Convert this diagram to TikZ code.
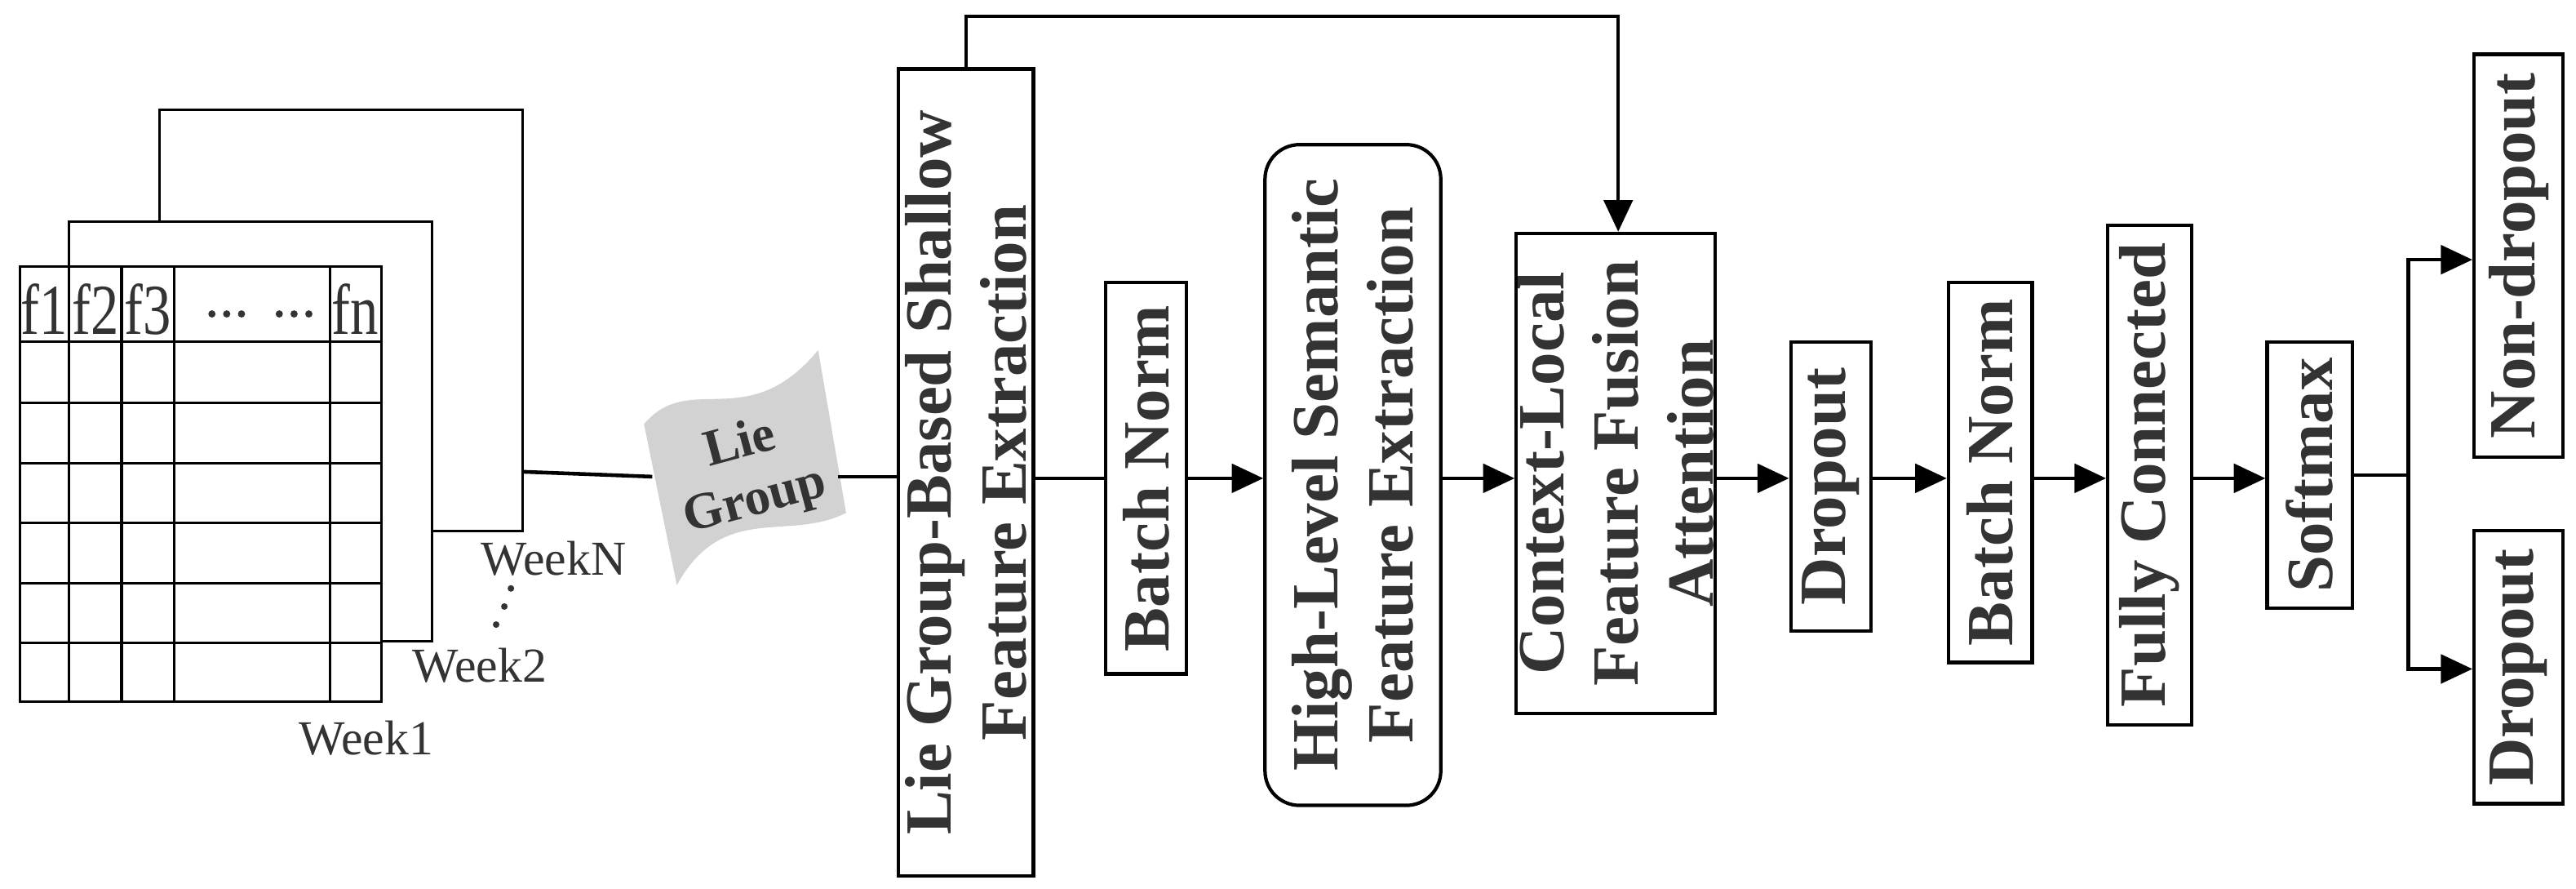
\documentclass[tikz,border=0pt]{standalone}
\usepackage{fontspec}
\setmainfont{Liberation Serif}
\usetikzlibrary{arrows.meta}
\definecolor{txt}{HTML}{333333}
\begin{document}
\begin{tikzpicture}[x=0.02013cm,y=-0.02013cm,
  blk/.style={draw,line width=1.2pt,fill=white,inner sep=0pt},
  vt/.style={rotate=90,align=center,text=txt,font=\fontsize{23}{26}\selectfont\bfseries},
  ln/.style={line width=1.3pt},
  ar/.style={line width=1.3pt,-{Triangle[length=11pt,width=10pt]}},
  tl/.style={text=txt,font=\fontsize{17}{19}\selectfont},
  lgt/.style={rotate=15,text=txt,font=\fontsize{18}{20}\selectfont\bfseries,inner sep=0pt}]
\useasboundingbox (0,0) rectangle (1568,540.5);
% stacked weeks
\draw[line width=0.9pt,fill=white] (97,67) rectangle (318,323);
\draw[line width=0.9pt,fill=white] (42,135) rectangle (263,390);
\draw[line width=0.9pt,fill=white] (12,162) rectangle (232,427);
\foreach \yy in {208,245,282,318,355,391} \draw[line width=0.9pt] (12,\yy) -- (232,\yy);
\foreach \xx in {42,74,106,201} \draw[line width=0.9pt] (\xx,162) -- (\xx,427);
\foreach \t/\xx in {f1/27,f2/58,f3/90,fn/216}
  \node[text=txt,font=\fontsize{25}{26}\selectfont,inner sep=0pt,xscale=0.78] at (\xx,188) {\t};
\foreach \xx in {129,138,147,170,179,188}
  \fill[txt] (\xx,191) circle (2.2);
\node[tl] (w1) at (223,449) {Week1};
\node[tl] (w2) at (292,405) {Week2};
\node[tl] (wn) at (337,340) {WeekN};
\foreach \p in {(302,380),(307,369),(311,358)} \fill[txt] \p circle (2);
\coordinate (tout) at (318,287);
% Lie group flag
\coordinate (flagL) at (397,290);
\coordinate (flagR) at (510,290);
\draw[ln] (tout) -- (flagL);
\fill[gray!35] (392,258) .. controls (420,225) and (455,265) .. (498,213)
  -- (515,312) .. controls (480,330) and (440,305) .. (412,356) -- cycle;
\node[lgt] (lie) at (450,268) {Lie};
\node[lgt] (grp) at (460,306) {Group};
% boxes
\node[blk,minimum width=82*0.02013cm,minimum height=491*0.02013cm] (lg) at (588,287.5) {};
\node[vt] at (lg) {Lie Group-Based Shallow\\Feature Extraction};
\node[blk,minimum width=49*0.02013cm,minimum height=238*0.02013cm] (bn1) at (697.5,291) {};
\node[vt] at (bn1) {Batch Norm};
\node[blk,rounded corners=12pt,minimum width=107*0.02013cm,minimum height=402*0.02013cm] (hl) at (823.5,289) {};
\node[vt] at (hl) {High-Level Semantic\\Feature Extraction};
\node[blk,minimum width=121*0.02013cm,minimum height=292*0.02013cm] (cl) at (983.5,288) {};
\node[vt] at (cl) {Context-Local\\Feature Fusion\\Attention};
\node[blk,minimum width=49*0.02013cm,minimum height=176*0.02013cm] (do1) at (1114.5,296) {};
\node[vt] at (do1) {Dropout};
\node[blk,minimum width=51*0.02013cm,minimum height=231*0.02013cm] (bn2) at (1211.5,287.5) {};
\node[vt] at (bn2) {Batch Norm};
\node[blk,minimum width=51*0.02013cm,minimum height=304*0.02013cm] (fc) at (1308.5,289) {};
\node[vt] at (fc) {Fully Connected};
\node[blk,minimum width=52*0.02013cm,minimum height=162*0.02013cm] (sm) at (1406,289) {};
\node[vt] at (sm) {Softmax};
\node[blk,minimum width=54*0.02013cm,minimum height=245*0.02013cm] (nd) at (1533,155.5) {};
\node[vt] at (nd) {Non-dropout};
\node[blk,minimum width=54*0.02013cm,minimum height=166*0.02013cm] (do2) at (1533,406) {};
\node[vt] at (do2) {Dropout};
% connectors
\draw[ln] (flagR) -- (lg.west |- flagR);
\draw[ln] (lg.east |- bn1.west) -- (bn1.west);
\draw[ar] (bn1.east) -- (hl.west |- bn1.east);
\draw[ar] (hl.east |- bn1.east) -- (cl.west |- bn1.east);
\draw[ar] (cl.east |- bn1.east) -- (do1.west |- bn1.east);
\draw[ar] (do1.east |- bn1.east) -- (bn2.west |- bn1.east);
\draw[ar] (bn2.east |- bn1.east) -- (fc.west |- bn1.east);
\draw[ar] (fc.east |- bn1.east) -- (sm.west |- bn1.east);
\coordinate (sp) at (1466,289);
\draw[ln] (sm.east |- sp) -- (sp);
\draw[ar] (sp) |- (nd.west |- 0,158);
\draw[ar] (sp) |- (do2.west |- 0,407);
\draw[ar] (lg.north) |- (985,10) -- (cl.north -| 985,0);
\end{tikzpicture}
\end{document}
